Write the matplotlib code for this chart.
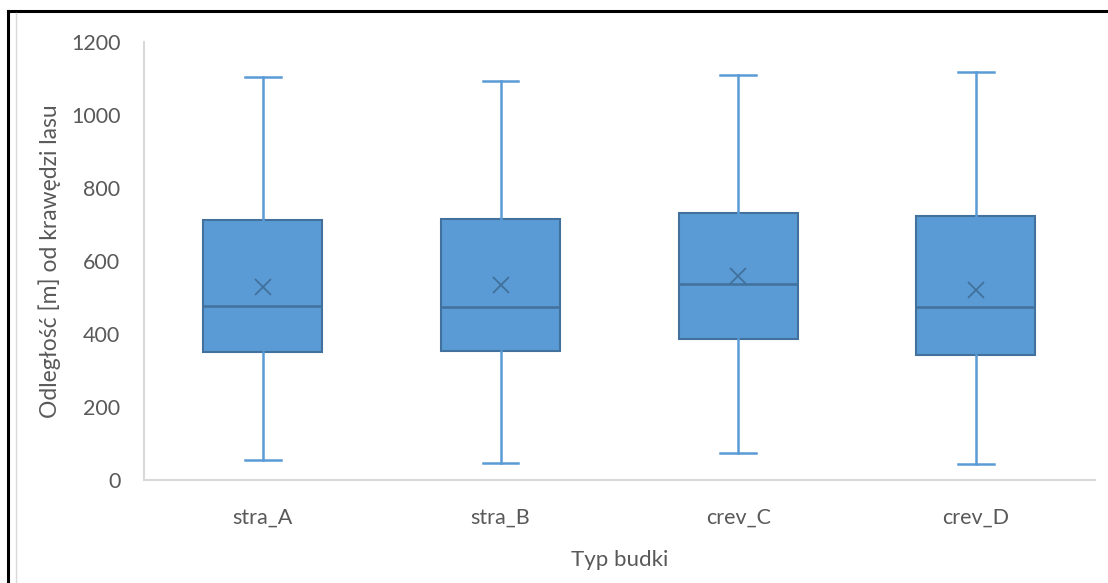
import matplotlib
matplotlib.use("Agg")
import matplotlib.pyplot as plt
from matplotlib.lines import Line2D

categories = ["stra_A", "stra_B", "crev_C", "crev_D"]
whisker_low = [55, 47, 73, 44]
q1 = [351, 354, 387, 342]
median = [477, 475, 537, 475]
mean = [529, 534, 559, 521]
q3 = [712, 714, 731, 724]
whisker_high = [1104, 1093, 1110, 1118]
y_ticks = [0, 200, 400, 600, 800, 1000, 1200]

plt.rcParams['font.family'] = ['Lato', 'DejaVu Sans']

fig = plt.figure(figsize=(11.08, 5.83), dpi=100)
ax = fig.add_axes([0.13, 0.1767, 0.858, 0.7513])

stats = []
for i, c in enumerate(categories):
    stats.append(dict(label=c, whislo=whisker_low[i], q1=q1[i], med=median[i],
                      mean=mean[i], q3=q3[i], whishi=whisker_high[i], fliers=[]))

fill = "#5B9BD5"
edge = "#41719C"
ax.bxp(stats, positions=range(1, len(categories) + 1), widths=0.5,
       patch_artist=True, showmeans=True, showfliers=False,
       boxprops=dict(facecolor=fill, edgecolor=edge, linewidth=1.5),
       medianprops=dict(color=edge, linewidth=1.8),
       whiskerprops=dict(color=fill, linewidth=1.8),
       capprops=dict(color=fill, linewidth=1.8),
       capwidths=0.15,
       meanprops=dict(marker='x', markeredgecolor=edge, markersize=12, markeredgewidth=1.3))

ax.set_xlim(0.5, len(categories) + 0.5)
ax.set_ylim(0, 1200)
ax.set_yticks(y_ticks)
ax.tick_params(axis='y', length=0, pad=17, labelsize=15.5, labelcolor="#595959")
ax.tick_params(axis='x', length=0, pad=20, labelsize=15.5, labelcolor="#595959")

for s in ['top', 'right']:
    ax.spines[s].set_visible(False)
for s in ['left', 'bottom']:
    ax.spines[s].set_color("#D9D9D9")
    ax.spines[s].set_linewidth(1.5)

ax.set_ylabel("Odległość [m] od krawędzi lasu", fontsize=16.5, color="#595959", labelpad=7)
ax.set_xlabel("Typ budki", fontsize=16, color="#595959", labelpad=16)

# Frame lines from the screenshot edges
fig.add_artist(Line2D([8/1108, 8/1108], [0, 1 - 11/583], color="black", linewidth=2.2, transform=fig.transFigure))
fig.add_artist(Line2D([8/1108, 1], [1 - 11/583, 1 - 11/583], color="black", linewidth=2.2, transform=fig.transFigure))
fig.add_artist(Line2D([16/1108, 16/1108], [0, 1 - 13/583], color="#D9D9D9", linewidth=1, transform=fig.transFigure))

fig.savefig("out.png", dpi=100)
